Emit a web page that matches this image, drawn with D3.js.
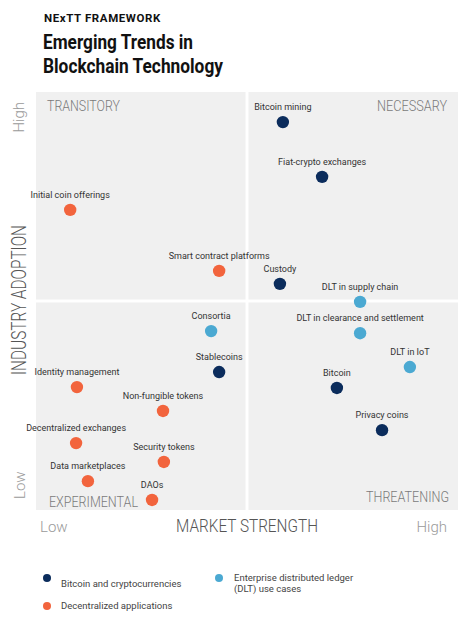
<!DOCTYPE html>
<html>
<head>
<meta charset="utf-8">
<script src="https://cdn.jsdelivr.net/npm/d3@7"></script>
<style>
  body { margin: 0; background: #fff; }
  svg { display: block; font-family: Roboto, "Open Sans", sans-serif; }
</style>
</head>
<body>
<svg id="chart" width="474" height="625"></svg>
<script>
// Trend names, market strength (x) and industry adoption (y), on a 0-100 scale
const names = [
  "Bitcoin mining", "Fiat-crypto exchanges", "Initial coin offerings",
  "Smart contract platforms", "Custody", "DLT in supply chain", "Consortia",
  "DLT in clearance and settlement", "Stablecoins", "DLT in IoT",
  "Identity management", "Bitcoin", "Non-fungible tokens", "Privacy coins",
  "Decentralized exchanges", "Security tokens", "Data marketplaces", "DAOs"
];
const strength = [58.5, 67.8, 8.1, 43.4, 57.8, 76.8, 41.5, 76.8, 43.4, 88.6, 9.7, 71.3, 30.1, 82.0, 9.5, 30.3, 12.3, 27.5];
const adoption = [92.8, 79.7, 71.8, 57.2, 54.1, 49.8, 42.8, 42.3, 33.0, 34.2, 29.4, 29.2, 23.7, 19.1, 16.0, 11.5, 6.9, 2.4];
// 0 = Bitcoin and cryptocurrencies, 1 = Decentralized applications, 2 = Enterprise DLT
const groups = [0, 0, 1, 1, 0, 2, 2, 2, 0, 2, 1, 0, 1, 0, 1, 1, 1, 1];

const groupNames = [
  ["Bitcoin and cryptocurrencies"],
  ["Decentralized applications"],
  ["Enterprise distributed ledger", "(DLT) use cases"]
];
const groupColors = ["#0b2c5c", "#f2643d", "#4ba9d2"];

const quadrants = ["TRANSITORY", "NECESSARY", "EXPERIMENTAL", "THREATENING"];
const levelLabels = ["Low", "High"];

const svg = d3.select("#chart");

const x = d3.scaleLinear().domain([0, 100]).range([36, 458]);
const y = d3.scaleLinear().domain([0, 100]).range([510, 92]);

// Header
svg.append("text").attr("x", 44).attr("y", 22)
  .attr("font-size", 11.5).attr("font-weight", 700).attr("letter-spacing", 0.6)
  .attr("fill", "#111").text("NExTT FRAMEWORK");
[["Emerging Trends in", 49, 150], ["Blockchain Technology", 73, 180]].forEach(([t, ty, len]) => {
  svg.append("text").attr("x", 43).attr("y", ty)
    .attr("font-size", 20).attr("font-weight", 700).attr("fill", "#111")
    .attr("textLength", len).attr("lengthAdjust", "spacingAndGlyphs")
    .text(t);
});

// Quadrant panels
const gap = 1.5;
const cells = [[0, 50, 50, 100], [50, 100, 50, 100], [0, 50, 0, 50], [50, 100, 0, 50]];
svg.append("g").selectAll("rect").data(cells).join("rect")
  .attr("x", d => x(d[0]) + (d[0] === 50 ? gap : 0))
  .attr("y", d => y(d[3]) + (d[3] === 50 ? gap : 0))
  .attr("width", d => x(d[1]) - x(d[0]) - gap)
  .attr("height", d => y(d[2]) - y(d[3]) - gap)
  .attr("fill", "#f0f0f0");

// Quadrant names
const qPos = [
  { x: 47, y: 111, anchor: "start", len: 73 },
  { x: 447, y: 111, anchor: "end", len: 70 },
  { x: 49, y: 507, anchor: "start", len: 89 },
  { x: 449, y: 502, anchor: "end", len: 83 }
];
svg.append("g").selectAll("text").data(quadrants).join("text")
  .attr("x", (d, i) => qPos[i].x).attr("y", (d, i) => qPos[i].y)
  .attr("text-anchor", (d, i) => qPos[i].anchor)
  .attr("font-size", 14.5).attr("font-weight", 300).attr("fill", "#7a7a7a")
  .attr("textLength", (d, i) => qPos[i].len).attr("lengthAdjust", "spacingAndGlyphs")
  .text(d => d);

// Axis titles
svg.append("text").attr("x", 247).attr("y", 532).attr("text-anchor", "middle")
  .attr("font-size", 18).attr("font-weight", 300).attr("fill", "#555")
  .attr("textLength", 142).attr("lengthAdjust", "spacingAndGlyphs")
  .text("MARKET STRENGTH");
svg.append("text").attr("transform", "translate(26,300) rotate(-90)").attr("text-anchor", "middle")
  .attr("font-size", 20).attr("font-weight", 300).attr("fill", "#555")
  .attr("textLength", 150).attr("lengthAdjust", "spacingAndGlyphs")
  .text("INDUSTRY ADOPTION");

// Low / High labels
svg.append("text").attr("x", 40).attr("y", 532)
  .attr("font-size", 15).attr("font-weight", 300).attr("fill", "#9a9a9a").text(levelLabels[0]);
svg.append("text").attr("x", 447).attr("y", 532).attr("text-anchor", "end")
  .attr("font-size", 15).attr("font-weight", 300).attr("fill", "#9a9a9a").text(levelLabels[1]);
svg.append("text").attr("transform", "translate(25,499) rotate(-90)")
  .attr("font-size", 15).attr("font-weight", 300).attr("fill", "#9a9a9a").text(levelLabels[0]);
svg.append("text").attr("transform", "translate(24,102) rotate(-90)").attr("text-anchor", "end")
  .attr("font-size", 15).attr("font-weight", 300).attr("fill", "#9a9a9a").text(levelLabels[1]);

// Points
const idx = d3.range(names.length);
const pts = svg.append("g").selectAll("g").data(idx).join("g")
  .attr("transform", i => `translate(${x(strength[i])},${y(adoption[i])})`);
pts.append("circle").attr("r", 6.2).attr("fill", i => groupColors[groups[i]]);
pts.append("text").attr("y", -12).attr("text-anchor", "middle")
  .attr("font-size", 9).attr("fill", "#333").text(i => names[i]);

// Legend
const legPos = [[47, 578], [47, 606], [219, 578]];
const textOff = [[14, 9], [14, 3], [15, 3]];
const leg = svg.append("g").selectAll("g").data(groupNames).join("g")
  .attr("transform", (d, i) => `translate(${legPos[i][0]},${legPos[i][1]})`);
leg.append("circle").attr("r", 4).attr("fill", (d, i) => groupColors[i]);
leg.each(function(lines, i) {
  d3.select(this).selectAll("text").data(lines).join("text")
    .attr("x", textOff[i][0]).attr("y", (d, j) => textOff[i][1] + j * 11)
    .attr("font-size", 9.5).attr("fill", "#444").text(d => d);
});
</script>
</body>
</html>
